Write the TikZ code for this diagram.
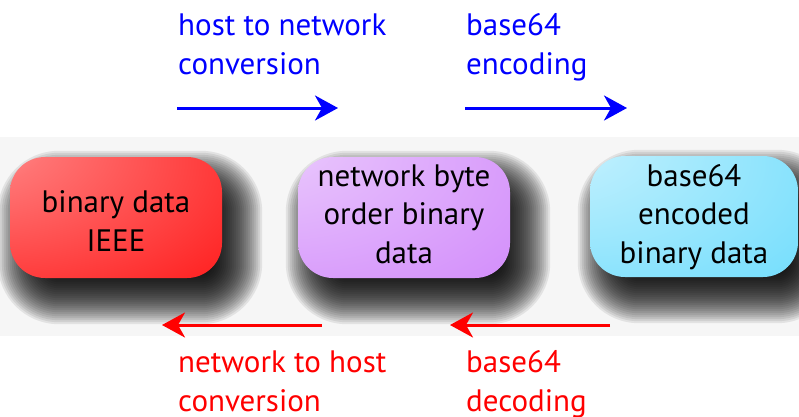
\documentclass[tikz,border=0pt]{standalone}
\usepackage{fontspec}
\setmainfont{PT Sans}
\usetikzlibrary{arrows.meta}

\definecolor{boxred}{RGB}{255,0,0}
\definecolor{boxviolet}{RGB}{204,124,250}
\definecolor{boxcyan}{RGB}{92,216,252}
\definecolor{fwdblue}{RGB}{0,0,255}
\definecolor{backred}{RGB}{255,0,0}
\definecolor{bandgray}{RGB}{246,246,246}

% glossy fills: light spot near the upper left corner of each box
\pgfdeclareradialshading{redglow}{\pgfpoint{-45bp}{40bp}}{%
  color(0bp)=(white!72!boxred); color(20bp)=(white!45!boxred);
  color(75bp)=(boxred); color(100bp)=(boxred)}
\pgfdeclareradialshading{violetglow}{\pgfpoint{-45bp}{40bp}}{%
  color(0bp)=(white!78!boxviolet); color(20bp)=(white!50!boxviolet);
  color(75bp)=(boxviolet); color(100bp)=(boxviolet)}
\pgfdeclareradialshading{cyanglow}{\pgfpoint{-45bp}{40bp}}{%
  color(0bp)=(white!85!boxcyan); color(20bp)=(white!55!boxcyan);
  color(75bp)=(boxcyan); color(100bp)=(boxcyan)}

\newcommand{\diagfont}{\fontsize{31}{38.5}\selectfont}

\pgfdeclarelayer{shadowlayer}
\pgfsetlayers{shadowlayer,main}

% soft drop shadow: stacked translucent rounded rectangles, offset to the lower right
\newcommand{\softshadow}[1]{%
  \foreach \k in {0,...,25}{%
    \pgfmathsetmacro{\e}{-26+2*\k}%
    \pgfmathsetmacro{\r}{max(35-\e,8)}%
    \fill[black, opacity=0.08, rounded corners=\r pt]
      ([shift={(14+\e,20+\e)}]#1.north west) rectangle
      ([shift={(14-\e,20-\e)}]#1.south east);
  }%
}

\begin{document}
\begin{tikzpicture}[x=1pt,y=-1pt,
  stagebox/.style={rounded corners=35pt, minimum width=212pt,
    minimum height=121pt, inner sep=0pt},
  boxtext/.style={font=\diagfont, align=center, inner sep=0pt, anchor=base},
  steplabel/.style={font=\diagfont, align=left, inner sep=0pt, anchor=base west},
  fwdarrow/.style={draw=fwdblue, line width=3pt,
    -{Stealth[length=23pt, width=25pt, inset=7pt]}},
  backarrow/.style={draw=backred, line width=3pt,
    -{Stealth[length=23pt, width=25pt, inset=7pt]}}]

\useasboundingbox (0,0) rectangle (799,416);

% the three data boxes
\node[stagebox, shading=redglow] (host) at (116,217.5) {};
\node[stagebox, shading=violetglow] (net) at (404,217.5) {};
\node[stagebox, shading=cyanglow, minimum width=208pt] (b64) at (694,216.5) {};
\node[boxtext] (host-txt) at (host.center |- 0,251) {binary data\\IEEE};
\node[boxtext] (net-txt) at (net.center |- 0,263) {network byte\\order binary\\data};
\node[boxtext] (b64-txt) at (b64.center |- 0,263) {base64\\encoded\\binary data};

% shadowed band behind the boxes
\begin{pgfonlayer}{shadowlayer}
  \fill[bandgray] (0,137) rectangle (799,336);
  \begin{scope}
    \clip (0,137) rectangle (799,336);
    \softshadow{host}
    \softshadow{net}
    \softshadow{b64}
  \end{scope}
\end{pgfonlayer}

% forward direction (top)
\node[steplabel, text=fwdblue] (h2n) at (178,74) {host to network\\conversion};
\node[steplabel, text=fwdblue] (enc) at (466,74) {base64\\encoding};
\coordinate (h2n-a) at (177,108);
\coordinate (h2n-b) at (338,108);
\coordinate (enc-a) at (465,108);
\coordinate (enc-b) at (627,108);
\draw[fwdarrow] (h2n-a) -- (h2n-b);
\draw[fwdarrow] (enc-a) -- (enc-b);

% backward direction (bottom)
\coordinate (n2h-a) at (322,325);
\coordinate (n2h-b) at (162,325);
\coordinate (dec-a) at (610,325);
\coordinate (dec-b) at (450,325);
\draw[backarrow] (n2h-a) -- (n2h-b);
\draw[backarrow] (dec-a) -- (dec-b);
\node[steplabel, text=backred] (n2h) at (178,411) {network to host\\conversion};
\node[steplabel, text=backred] (dec) at (466,411) {base64\\decoding};
\end{tikzpicture}
\end{document}
